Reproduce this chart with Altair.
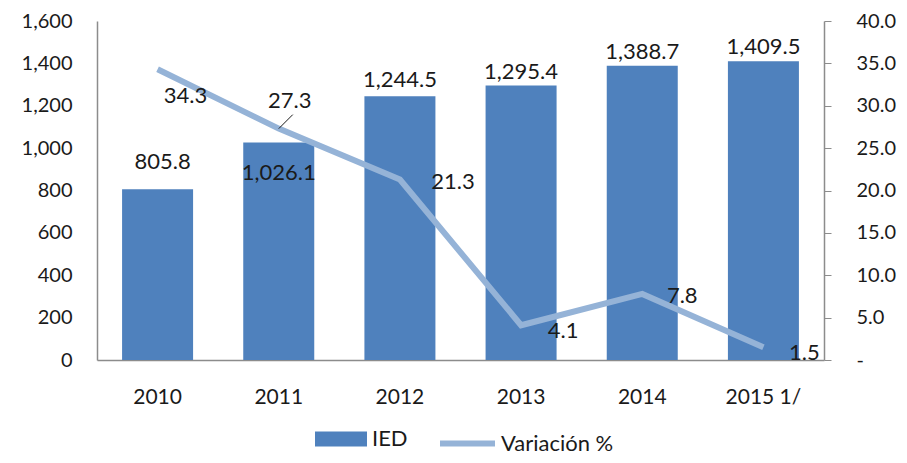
import altair as alt
import pandas as pd

years = ["2010", "2011", "2012", "2013", "2014", "2015 1/"]
ied = [805.8, 1026.1, 1244.5, 1295.4, 1388.7, 1409.5]
variacion = [34.3, 27.3, 21.3, 4.1, 7.8, 1.5]

# label nudges (pixels) to mimic the reference label placement
bar_dx = [5, 0, 0, 0, 0, 0]
bar_dy = [-27, 30, -16, -14, -14, -14]
line_dx = [28, 11, 53, 42, 40, 41]
line_dy = [27, -28, 3, 6, 2, 6]

df = pd.DataFrame({
    "year": years, "ied": ied, "var": variacion,
    "bdx": bar_dx, "bdy": bar_dy, "ldx": line_dx, "ldy": line_dy,
})

BLUE = "#4F81BD"
LIGHT = "#95B3D7"
FONT = "Lato"
TXT = "#1a1a1a"
AX = "#8c8c8c"

x = alt.X("year:N", sort=years, title=None,
          scale=alt.Scale(paddingInner=0.414, paddingOuter=0.207),
          axis=alt.Axis(labelAngle=0, ticks=False, domainColor=AX, domainWidth=1.5,
                        labelFontSize=21, labelPadding=26, labelFont=FONT, labelColor=TXT))

y_left = alt.Y("ied:Q", title=None, scale=alt.Scale(domain=[0, 1600]),
               axis=alt.Axis(values=list(range(0, 1601, 200)), format=",.0f", ticks=False,
                             grid=False, domainColor=AX, domainWidth=1.5, labelFontSize=20,
                             labelPadding=25, labelFont=FONT, labelColor=TXT))

base = alt.Chart(df)

bars = base.transform_calculate(s1="'IED'").mark_bar().encode(
    x=x, y=y_left,
    fill=alt.Fill("s1:N", scale=alt.Scale(range=[BLUE]),
                  legend=alt.Legend(title=None, orient="none", legendX=218, legendY=392,
                                    symbolType="M-1,-0.29H1V0.29H-1Z", symbolSize=2704,
                                    symbolStrokeWidth=0, symbolOpacity=1, labelFontSize=22,
                                    labelFont=FONT, labelColor=TXT, labelOffset=5, padding=0)),
)
bar_text = base.mark_text(font=FONT, fontSize=22, color=TXT, baseline="middle",
                          dx=alt.expr("datum.bdx"), dy=alt.expr("datum.bdy")).encode(
    x=x, y=y_left, text=alt.Text("ied:Q", format=",.1f"))

left = alt.layer(bars, bar_text)

y_right = alt.Y("var:Q", title=None, scale=alt.Scale(domain=[0, 40]),
                axis=alt.Axis(orient="right", values=list(range(0, 41, 5)), grid=False,
                              labelExpr="datum.value == 0 ? '-' : format(datum.value, '.1f')",
                              tickSize=7, tickColor=AX, domainColor=AX,
                              domainWidth=1.5, labelFontSize=20, labelPadding=25,
                              labelFont=FONT, labelColor=TXT))

line = base.transform_calculate(s2="'Variación %'").mark_line(strokeWidth=6).encode(
    x=x, y=y_right,
    stroke=alt.Stroke("s2:N", scale=alt.Scale(range=[LIGHT]),
                      legend=alt.Legend(title=None, orient="none", legendX=340, legendY=392,
                                        symbolType="stroke", symbolSize=3025,
                                        symbolStrokeWidth=6, labelFontSize=22, labelFont=FONT,
                                        labelColor=TXT, labelOffset=3, padding=0)),
)
line_text = base.mark_text(font=FONT, fontSize=22, color=TXT, baseline="middle",
                           dx=alt.expr("datum.ldx"), dy=alt.expr("datum.ldy")).encode(
    x=x, y=y_right, text=alt.Text("var:Q", format=".1f"))

leader = base.transform_filter(alt.datum.year == "2011").mark_rule(
    color=TXT, strokeWidth=1, x2Offset=14, y2Offset=-14).encode(
    x=x, y=y_right, x2=alt.X2("year:N"), y2=alt.Y2("var:Q"))

right = alt.layer(line, leader, line_text)

chart = alt.layer(left, right).resolve_scale(
    y="independent", fill="independent", stroke="independent"
).properties(
    width=727, height=339,
    padding={"left": 89, "top": 13, "right": 75, "bottom": 95},
    autosize=alt.AutoSizeParams(type="none"),
).configure_view(stroke=None).configure_axis(grid=False)

chart.save("out.html", embed_options={"renderer": "svg", "actions": False})
